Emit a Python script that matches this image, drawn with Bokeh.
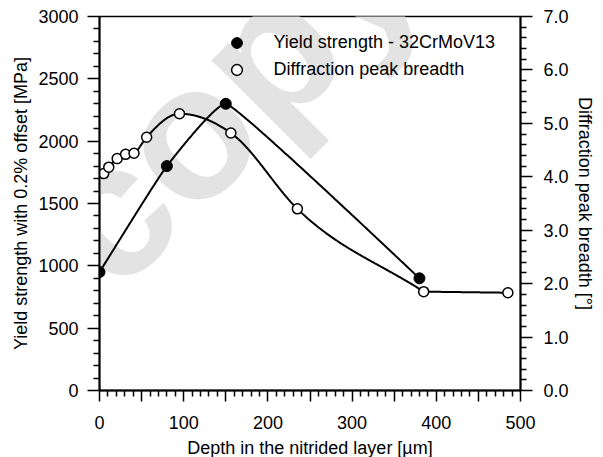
import numpy as np
from bokeh.plotting import figure
from bokeh.models import (Range1d, LinearAxis, FixedTicker, Legend, LegendItem,
                          Label, Title)
from bokeh.embed import file_html
from bokeh.resources import INLINE

# ---------------- data ----------------
depth_ys = [0, 80, 150, 380]                 # µm
yield_mpa = [950, 1800, 2300, 900]           # MPa

depth_pb = [5, 11, 21, 31, 41, 56, 95, 156, 235, 385, 485]   # µm
breadth = [4.06, 4.18, 4.34, 4.42, 4.44, 4.74, 5.18, 4.82, 3.40, 1.85, 1.83]  # deg

x_major = [0, 50, 100, 150, 200, 250, 300, 350, 400, 450, 500]
x_minor = [v for v in range(0, 501, 10) if v % 50]
yl_major = [0, 500, 1000, 1500, 2000, 2500, 3000]
yl_minor = [v for v in range(0, 3001, 100) if v % 500]
yr_major = [0, 1, 2, 3, 4, 5, 6, 7]
yr_minor = [round(v * 0.2, 1) for v in range(0, 36) if v % 5]

FONT = "Liberation Sans"


# ---------------- smooth curve through the points (Bezier segments) ----------------
def smooth_curve(x, y, lmax=1e9, kink=20.0, n=120):
    x = np.asarray(x, float); y = np.asarray(y, float)
    h = np.diff(x); d = np.diff(y) / h
    N = len(x)
    mL = np.zeros(N); mR = np.zeros(N)
    mL[0] = mR[0] = d[0]
    mL[-1] = mR[-1] = d[-1]
    for k in range(1, N - 1):
        a, b = d[k - 1], d[k]
        if a * b <= 0:
            mL[k] = mR[k] = 0.0
        elif max(abs(a), abs(b)) > kink * min(abs(a), abs(b)):
            mL[k], mR[k] = a, b
        else:
            mL[k] = mR[k] = (h[k] * a + h[k - 1] * b) / (h[k - 1] + h[k])
    t = np.linspace(0, 1, n)
    b0 = (1 - t) ** 3; b1 = 3 * t * (1 - t) ** 2; b2 = 3 * t ** 2 * (1 - t); b3 = t ** 3
    xs, ys = [], []
    for k in range(N - 1):
        L = min(h[k] / 3, lmax)
        px = [x[k], x[k] + L, x[k + 1] - L, x[k + 1]]
        py = [y[k], y[k] + L * mR[k], y[k + 1] - L * mL[k + 1], y[k + 1]]
        xs.extend(b0 * px[0] + b1 * px[1] + b2 * px[2] + b3 * px[3])
        ys.extend(b0 * py[0] + b1 * py[1] + b2 * py[2] + b3 * py[3])
    return xs, ys


ys_x, ys_y = smooth_curve(depth_ys, yield_mpa, lmax=12)
pb_x, pb_y = smooth_curve(depth_pb, breadth)

# ---------------- figure ----------------
p = figure(frame_width=421, frame_height=374,
           min_border_left=99, min_border_right=80,
           min_border_top=16, min_border_bottom=60,
           x_range=Range1d(0, 500), y_range=Range1d(0, 3000),
           output_backend="svg", toolbar_location=None,
           x_axis_location=None, y_axis_location=None)
p.extra_y_ranges = {"pb": Range1d(0, 7)}
p.xgrid.visible = False
p.ygrid.visible = False
p.outline_line_color = "black"
p.outline_line_width = 1.5
p.background_fill_color = None
p.border_fill_color = "white"


def style(ax, tick_out, minor_out, standoff):
    ax.axis_line_width = 2
    ax.axis_line_color = "black"
    ax.major_tick_in = 0
    ax.major_tick_out = tick_out
    ax.minor_tick_in = 0
    ax.minor_tick_out = minor_out
    ax.major_tick_line_width = 1.5
    ax.minor_tick_line_width = 1.5
    ax.major_tick_line_color = "black"
    ax.minor_tick_line_color = "black"
    ax.major_label_text_font = FONT
    ax.major_label_text_font_size = "18px"
    ax.major_label_text_color = "black"
    ax.major_label_standoff = standoff
    ax.axis_label_text_font = FONT
    ax.axis_label_text_font_size = "18px"
    ax.axis_label_text_font_style = "normal"
    ax.axis_label_text_color = "black"


xaxis = LinearAxis(ticker=FixedTicker(ticks=x_major, minor_ticks=x_minor),
                   axis_label="Depth in the nitrided layer [µm]")
xaxis.major_label_overrides = {v: ("" if v % 100 else str(v)) for v in x_major}
style(xaxis, 11, 6, 14)
xaxis.axis_label_standoff = 6
p.add_layout(xaxis, "below")

yaxis = LinearAxis(ticker=FixedTicker(ticks=yl_major, minor_ticks=yl_minor),
                   axis_label="Yield strength with 0.2% offset [MPa]")
style(yaxis, 12, 6, 9)
yaxis.axis_label_standoff = 4
p.add_layout(yaxis, "left")

raxis = LinearAxis(y_range_name="pb",
                   ticker=FixedTicker(ticks=yr_major, minor_ticks=yr_minor))
raxis.major_label_overrides = {v: f"{v:.1f}" for v in yr_major}
style(raxis, 12, 6, 11)
p.add_layout(raxis, "right")

# right axis title as a side title (drawn reading top to bottom)
p.add_layout(Title(text="Diffraction peak breadth [°]", align="center",
                   text_font=FONT, text_font_size="18px",
                   text_font_style="normal", text_color="black",
                   standoff=6), "right")

# watermark
p.add_layout(Label(x=151, y=2380, text="copy", angle=45, angle_units="deg",
                   text_align="center", text_baseline="middle",
                   text_font=FONT, text_font_size="190px", text_font_style="bold",
                   text_color="#e3e3e3", level="underlay"))

# curves
p.line(ys_x, ys_y, line_color="black", line_width=2)
p.line(pb_x, pb_y, y_range_name="pb", line_color="black", line_width=2)

r1 = p.scatter(depth_ys, yield_mpa, marker="circle", size=11,
               fill_color="black", line_color="black")
r2 = p.scatter(depth_pb, breadth, y_range_name="pb", marker="circle", size=10,
               fill_color="white", line_color="black", line_width=1.5)

legend = Legend(items=[LegendItem(label="Yield strength - 32CrMoV13", renderers=[r1]),
                       LegendItem(label="Diffraction peak breadth", renderers=[r2])],
                location=(123.5, 307.5), glyph_width=27, glyph_height=27,
                label_standoff=24, spacing=0, padding=0, margin=0,
                border_line_color=None, background_fill_alpha=0,
                label_text_font=FONT, label_text_font_size="18px",
                label_text_color="black")
p.add_layout(legend)

open("out.html", "w").write(file_html(p, INLINE))
